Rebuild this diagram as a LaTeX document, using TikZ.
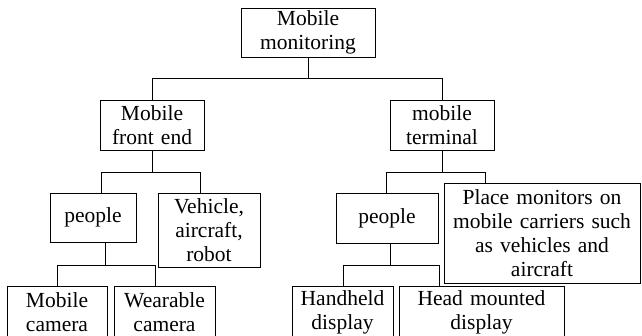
\documentclass[tikz,border=0pt]{standalone}
\usepackage{fontspec}
\setmainfont{Liberation Serif}

\begin{document}
\begin{tikzpicture}[x=1pt, y=-1pt, line width=0.9pt,
    box/.style={draw, inner sep=0pt, align=center,
      font=\fontsize{21.5}{24}\selectfont}]
      \useasboundingbox (0,0) rectangle (642,335);
      \clip (0,0) rectangle (642,335);
      \node[box, text width=134pt, minimum height=49pt] (root) at (308,32.5)
        {Mobile\\monitoring};
      \node[box, text width=104pt, minimum height=50pt] (mfe) at (152,125)
        {Mobile\\front end};
      \node[box, text width=104pt, minimum height=50pt] (mt) at (442,125)
        {mobile\\terminal};
      \node[box, text width=86pt, minimum height=49pt] (pplL) at (93,217.5)
        {people};
      \node[box, text width=102pt, minimum height=74pt] (veh) at (209,230)
        {Vehicle,\\aircraft,\\robot};
      \node[box, text width=102pt, minimum height=50pt] (pplR) at (387,218)
        {people};
      \node[box, text width=196pt, minimum height=100pt] (place) at (542,233)
        {Place monitors on\\mobile carriers such\\as vehicles and\\aircraft};
      \node[box, text width=100pt, minimum height=52pt] (camM) at (57,312)
        {Mobile\\camera};
      \node[box, text width=101pt, minimum height=52pt] (camW) at (164.5,312)
        {Wearable\\camera};
      \node[box, text width=101pt, minimum height=52pt] (hand) at (342.5,312)
        {Handheld\\display};
      \node[box, text width=165pt, minimum height=52pt] (head) at (481.5,312)
        {Head mounted\\display};
      \coordinate (rj) at (308,78);
      \draw (root.south) -- (rj) -| (mfe.north);
      \draw (rj) -| (mt.north);
      \draw (mfe.south) -- ++(0,22) -| ([xshift=8pt]pplL.north);
      \draw (mfe.south) ++(0,22) -| ([xshift=-9pt]veh.north);
      \draw (mt.south) -- ++(0,22) -| ([xshift=-1pt]pplR.north);
      \draw (mt.south) ++(0,22) -| ([xshift=-57pt]place.north);
      \draw ([xshift=12pt]pplL.south) -- ++(0,23) -| (camM.north);
      \draw ([xshift=12pt]pplL.south) ++(0,23) -| ([xshift=-9pt]camW.north);
      \draw ([xshift=3pt]pplR.south) -- ++(0,22) -| ([xshift=1pt]hand.north);
      \draw ([xshift=3pt]pplR.south) ++(0,22) -| ([xshift=-42pt]head.north);
    \end{tikzpicture}
\end{document}
